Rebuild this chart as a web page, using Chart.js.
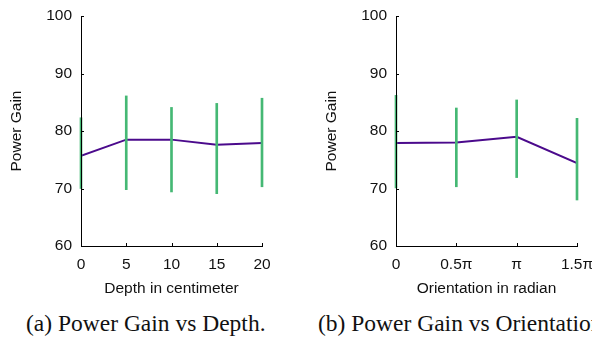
<!DOCTYPE html>
<html>
<head>
<meta charset="utf-8">
<script src="https://cdn.jsdelivr.net/npm/chart.js@4"></script>
<style>
    body { margin: 0; background: #fff; }
    #wrap { position: relative; width: 592px; height: 339px; overflow: hidden; background: #fff; }
    canvas { position: absolute; top: 0; }
    .caption {
        position: absolute; top: 312px; line-height: 1; white-space: nowrap;
        font-family: "Liberation Serif", "Times New Roman", serif; font-size: 23.5px; color: #111;
    }
</style>
</head>
<body>
<div id="wrap">
    <canvas id="depthChart" width="296" height="300" style="left:0"></canvas>
    <canvas id="orientChart" width="296" height="300" style="left:296px"></canvas>
    <div class="caption" style="left:26px">(a) Power Gain vs Depth.</div>
    <div class="caption" style="left:318px">(b) Power Gain vs Orientation.</div>
</div>
<script>
// (a) depth
const depths = [0, 5, 10, 15, 20];
const depthGain = [75.7, 78.5, 78.5, 77.6, 77.9];
const depthLow = [70.0, 69.8, 69.4, 69.1, 70.3];
const depthHigh = [82.3, 86.1, 84.1, 84.8, 85.7];

// (b) orientation, in multiples of pi
const angles = [0, 0.5, 1, 1.5];
const angleLabels = ['0', '0.5π', 'π', '1.5π'];
const angleGain = [77.9, 78.0, 79.0, 74.4];
const angleLow = [70.1, 70.3, 71.9, 68.0];
const angleHigh = [86.2, 84.0, 85.4, 82.2];

const gainTicks = [60, 70, 80, 90, 100];

const lineColor = '#4b0a8c';
const barColor = '#45b874';
const sans = '"Liberation Sans", Arial, sans-serif';
const fontSize = 15.5;

// small tick marks pointing into the plot
const innerTicks = {
    id: 'innerTicks',
    afterDraw(chart) {
        const ctx = chart.ctx;
        const x = chart.scales.x, y = chart.scales.y;
        ctx.save();
        ctx.strokeStyle = '#000';
        ctx.lineWidth = 1;
        ctx.beginPath();
        x.ticks.forEach((t, i) => {
            const px = Math.round(x.getPixelForTick(i)) + 0.5;
            ctx.moveTo(px, y.bottom);
            ctx.lineTo(px, y.bottom - 3);
        });
        y.ticks.forEach((t, i) => {
            const py = Math.round(y.getPixelForTick(i)) + 0.5;
            ctx.moveTo(x.left, py);
            ctx.lineTo(x.left + 3, py);
        });
        ctx.stroke();
        ctx.restore();
    }
};

function makeChart(id, xs, gain, low, high, opts) {
    const ctx = document.getElementById(id).getContext('2d');
    new Chart(ctx, {
        type: 'line',
        data: {
            datasets: [{
                type: 'bar',
                data: xs.map((x, i) => ({ x: x, y: [low[i], high[i]] })),
                backgroundColor: barColor,
                borderWidth: 0,
                barThickness: 2,
                clip: false,
                order: 0
            }, {
                type: 'line',
                data: xs.map((x, i) => ({ x: x, y: gain[i] })),
                borderColor: lineColor,
                borderWidth: 2,
                pointRadius: 0,
                tension: 0,
                order: 1
            }]
        },
        options: {
            responsive: false,
            maintainAspectRatio: false,
            animation: false,
            devicePixelRatio: 1,
            layout: { padding: { left: 0, top: 16, right: opts.padRight, bottom: 0 } },
            plugins: { legend: { display: false }, tooltip: { enabled: false } },
            scales: {
                x: {
                    type: 'linear',
                    min: xs[0],
                    max: xs[xs.length - 1],
                    offset: false,
                    grid: { display: false, offset: false, drawTicks: false, tickLength: 0 },
                    border: { display: true, color: '#000', width: 1, z: 1 },
                    afterBuildTicks: (s) => { s.ticks = xs.map(v => ({ value: v })); },
                    ticks: {
                        padding: 9,
                        color: '#111',
                        font: { family: sans, size: fontSize },
                        maxRotation: 0,
                        callback: opts.tickLabel
                    },
                    title: {
                        display: true,
                        text: opts.xTitle,
                        color: '#111',
                        font: { family: sans, size: fontSize },
                        padding: { top: 0, bottom: 2 }
                    },
                    afterFit: (s) => {
                        s.height = 54;
                        s.paddingLeft = 0;
                        s.paddingRight = 0;
                    }
                },
                y: {
                    min: 60,
                    max: 100,
                    grid: { display: false, drawTicks: false, tickLength: 0 },
                    border: { display: true, color: '#000', width: 1, z: 1 },
                    afterBuildTicks: (s) => { s.ticks = gainTicks.map(v => ({ value: v })); },
                    ticks: {
                        padding: 9,
                        color: '#111',
                        font: { family: sans, size: fontSize }
                    },
                    title: {
                        display: true,
                        text: 'Power Gain',
                        color: '#111',
                        font: { family: sans, size: fontSize },
                        padding: { top: opts.yTitlePad, bottom: 0 }
                    },
                    afterFit: (s) => {
                        s.width = opts.yWidth;
                        s.paddingTop = 0;
                        s.paddingBottom = 0;
                    }
                }
            }
        },
        plugins: [innerTicks]
    });
}

makeChart('depthChart', depths, depthGain, depthLow, depthHigh, {
    xTitle: 'Depth in centimeter',
    tickLabel: (v) => String(v),
    padRight: 34,
    yWidth: 81,
    yTitlePad: 7
});

makeChart('orientChart', angles, angleGain, angleLow, angleHigh, {
    xTitle: 'Orientation in radian',
    tickLabel: (v) => angleLabels[angles.indexOf(v)],
    padRight: 15,
    yWidth: 100,
    yTitlePad: 26
});
</script>
</body>
</html>
